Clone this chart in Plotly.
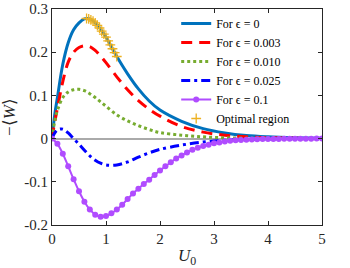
import plotly.graph_objects as go

# ---------------- data ----------------
u_main = [0, 0.05, 0.1, 0.2, 0.3, 0.4, 0.5, 0.6, 0.7, 0.8, 0.9, 1.0, 1.2, 1.4, 1.6,
          1.8, 2.0, 2.4, 2.8, 3.2, 3.6, 4.0, 4.5, 5.0]
w_eps0 = [0, 0.055, 0.095, 0.172, 0.222, 0.252, 0.268, 0.277, 0.277, 0.268, 0.253,
          0.235, 0.19, 0.15, 0.115, 0.087, 0.066, 0.04, 0.023, 0.013, 0.007, 0.004,
          0.002, 0.001]
w_eps003 = [0, 0.038, 0.07, 0.132, 0.177, 0.2, 0.211, 0.215, 0.213, 0.204, 0.191,
            0.176, 0.143, 0.113, 0.088, 0.068, 0.052, 0.028, 0.015, 0.008, 0.004,
            0.002, 0.001, 0.0]
w_eps010 = [0, 0.04, 0.065, 0.095, 0.108, 0.113, 0.114, 0.111, 0.104, 0.095, 0.085,
            0.075, 0.055, 0.041, 0.03, 0.021, 0.014, 0.008, 0.004, 0.002, 0.001,
            0.0005, 0.0, 0.0]
w_eps025 = [0, 0.013, 0.02, 0.022, 0.013, 0.0, -0.013, -0.027, -0.04, -0.05, -0.057,
            -0.061, -0.061, -0.054, -0.043, -0.033, -0.025, -0.015, -0.008, -0.004,
            -0.002, -0.001, 0.0, 0.0]

u_eps1 = [round(0.1 * i, 1) for i in range(51)]
w_eps1 = [0, -0.012, -0.035, -0.064, -0.094, -0.122, -0.146, -0.164, -0.176, -0.181,
          -0.179, -0.173, -0.164, -0.153, -0.14, -0.127, -0.116, -0.105, -0.095,
          -0.084, -0.074, -0.064, -0.055, -0.046, -0.039, -0.032, -0.026, -0.021,
          -0.017, -0.014, -0.011, -0.009, -0.007, -0.005, -0.004, -0.003, -0.0025,
          -0.002, -0.0015, -0.001, -0.001, -0.001, -0.0008, -0.0006, -0.0005,
          -0.0004, -0.0003, -0.0002, -0.0001, 0.0, 0.0]

u_opt = [0.64, 0.68, 0.72, 0.76, 0.80, 0.84, 0.88, 0.92, 0.96, 1.00, 1.04, 1.08,
         1.12, 1.16, 1.20]
w_opt = [0.278, 0.277, 0.275, 0.272, 0.268, 0.262, 0.256, 0.249, 0.242, 0.235,
         0.226, 0.217, 0.208, 0.199, 0.19]

x_ticks = [0, 1, 2, 3, 4, 5]
x_ticktext = ["0", "1", "2", "3", "4", "5"]
y_ticks = [-0.2, -0.1, 0, 0.1, 0.2, 0.3]
y_ticktext = ["-0.2", "-0.1", "0", "0.1", "0.2", "0.3"]

names = ["For ϵ = 0", "For ϵ = 0.003", "For ϵ = 0.010", "For ϵ = 0.025",
         "For ϵ = 0.1", "Optimal region"]

# ---------------- figure ----------------
fig = go.Figure()
fig.add_trace(go.Scatter(x=u_main, y=w_eps0, mode="lines", name=names[0],
                         line=dict(color="#0072BD", width=3, shape="spline")))
fig.add_trace(go.Scatter(x=u_main, y=w_eps003, mode="lines", name=names[1],
                         line=dict(color="#FF0000", width=3, dash="11px,7px", shape="spline")))
fig.add_trace(go.Scatter(x=u_main, y=w_eps010, mode="lines", name=names[2],
                         line=dict(color="#77AC30", width=3, dash="3px,3px", shape="spline")))
fig.add_trace(go.Scatter(x=u_main, y=w_eps025, mode="lines", name=names[3],
                         line=dict(color="#0000FF", width=3, dash="9px,4px,3px,4px",
                                   shape="spline")))
fig.add_trace(go.Scatter(x=u_eps1, y=w_eps1, mode="lines+markers", name=names[4],
                         line=dict(color="#B04CFF", width=2, shape="spline"),
                         marker=dict(color="#B04CFF", size=6, symbol="circle")))
fig.add_trace(go.Scatter(x=u_opt, y=w_opt, mode="markers", name=names[5],
                         marker=dict(symbol="cross-thin", size=7,
                                     line=dict(color="#EDB120", width=1.3))))

font_family = "Liberation Serif"

fig.update_layout(
    width=350, height=268,
    margin=dict(l=52, r=28, t=9, b=43, autoexpand=False),
    paper_bgcolor="white", plot_bgcolor="white",
    font=dict(family=font_family, size=15, color="#262626"),
    showlegend=True,
    legend=dict(x=0.46, y=1.0, xanchor="left", yanchor="top",
                bgcolor="rgba(255,255,255,0)", borderwidth=0,
                font=dict(family=font_family, size=12, color="#000000"),
                itemwidth=30, tracegroupgap=0),
)
fig.update_xaxes(range=[0, 5], tickvals=x_ticks, ticktext=x_ticktext,
                 automargin=False,
                 ticks="inside", ticklen=4, tickcolor="#262626",
                 showline=True, linecolor="#262626", linewidth=1, mirror="ticks",
                 showgrid=False, zeroline=False,
                 tickfont=dict(family=font_family, size=15),
                 title=dict(text="<i>U</i><sub>0</sub>", standoff=4,
                            font=dict(family=font_family, size=17)))
fig.update_yaxes(range=[-0.2, 0.3], tickvals=y_ticks, ticktext=y_ticktext,
                 automargin=False,
                 ticks="inside", ticklen=4, tickcolor="#262626",
                 showline=True, linecolor="#262626", linewidth=1, mirror="ticks",
                 showgrid=False,
                 zeroline=True, zerolinecolor="#AAAAAA", zerolinewidth=2,
                 tickfont=dict(family=font_family, size=15),
                 title=dict(text="−⟨<i>W</i>⟩", standoff=4,
                            font=dict(family=font_family, size=17)))

fig.write_html("out.html", config={"displayModeBar": False},
               post_script="document.body.style.margin='0';")
